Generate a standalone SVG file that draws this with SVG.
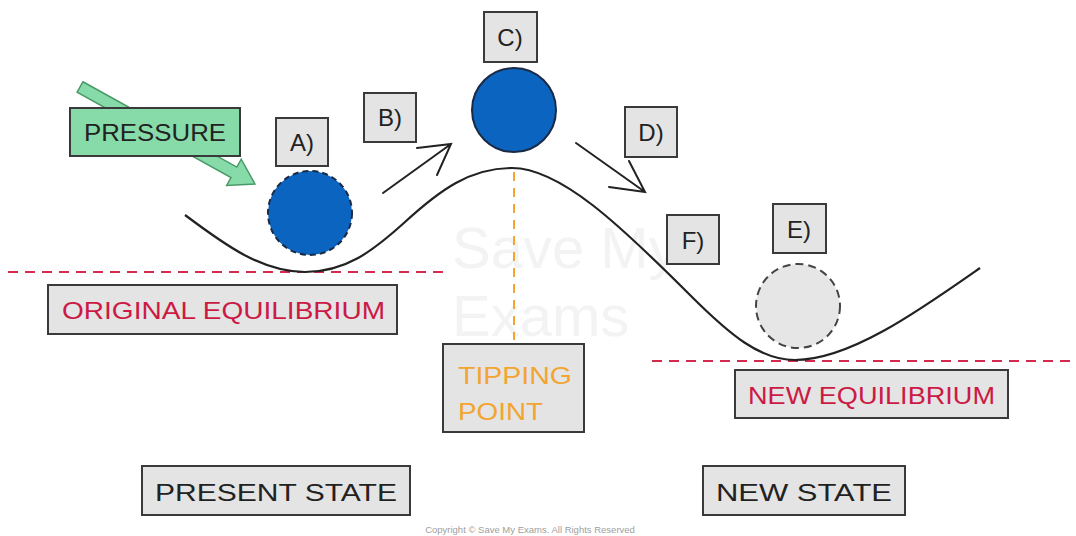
<svg xmlns="http://www.w3.org/2000/svg" width="1076" height="536" viewBox="0 0 1076 536">
<defs>
<style>
.box{fill:#e4e4e4;stroke:#3a3a3a;stroke-width:2}
.lbl{font-family:"Liberation Sans",Arial,sans-serif;font-size:24px;fill:#222}
.red{fill:#cc1a44}
.org{fill:#f2a530}
.line{fill:none;stroke:#222;stroke-width:2.2}
.arr{fill:none;stroke:#222;stroke-width:2;stroke-linecap:round}
</style>
</defs>
<rect width="1076" height="536" fill="#ffffff"/>
<g id="watermark" font-family="Liberation Sans,Arial,sans-serif" font-size="58" fill="#f3f3f3">
<text x="452" y="268">Save My</text>
<text x="452" y="336">Exams</text>
</g>
<g id="guides">
<line x1="8" y1="272" x2="448" y2="272" stroke="#d42a4e" stroke-width="2" stroke-dasharray="10,7"/>
<line x1="652" y1="361" x2="1080" y2="361" stroke="#d42a4e" stroke-width="2" stroke-dasharray="10,7"/>
<line x1="514" y1="172" x2="514" y2="340" stroke="#f2a530" stroke-width="2" stroke-dasharray="9,7"/>
</g>
<g id="landscape">
<path class="line" d="M185,215 C225,245 262,272 305,272 C345,272 372,252 405,222 C440,190 470,168 512,168 C560,168 620,225 690,295 C730,335 760,360 795,360 C850,360 920,310 980,268"/>
</g>
<g id="connectors">
<g id="pressure-arrow" transform="translate(80,87) rotate(29)">
<polygon points="0,-6 176,-6 176,-15 200,0 176,15 176,6 0,6" fill="#86dba8" stroke="#4a9a68" stroke-width="1.5"/>
</g>
<g id="arrow-B">
<path class="arr" d="M383,193 L451,144 M417,148 L451,144 L437,175"/>
</g>
<g id="arrow-D">
<path class="arr" d="M576,143 L645,192 M629,161 L645,192 L609,187"/>
</g>
</g>
<g id="ball-A"><circle cx="310" cy="213" r="42" fill="#0a64c0" stroke="#1a2a44" stroke-width="2" stroke-dasharray="6,4"/></g>
<g id="ball-C"><circle cx="514" cy="110" r="42" fill="#0a64c0" stroke="#1a2a44" stroke-width="2"/></g>
<g id="ball-E"><circle cx="798" cy="306" r="42" fill="#e6e6e6" stroke="#444" stroke-width="2" stroke-dasharray="8,5"/></g>
<g id="pressure">
<rect x="70" y="108" width="170" height="48" fill="#86dba8" stroke="#3a3a3a" stroke-width="2"/>
<text class="lbl" x="155" y="141" text-anchor="middle" textLength="142" lengthAdjust="spacingAndGlyphs">PRESSURE</text>
</g>
<g id="label-A"><rect class="box" x="276" y="118" width="52" height="48"/><text class="lbl" x="302" y="151" text-anchor="middle">A)</text></g>
<g id="label-B"><rect class="box" x="364" y="93" width="52" height="49"/><text class="lbl" x="390" y="126" text-anchor="middle">B)</text></g>
<g id="label-C"><rect class="box" x="484" y="12" width="53" height="50"/><text class="lbl" x="510" y="46" text-anchor="middle">C)</text></g>
<g id="label-D"><rect class="box" x="625" y="107" width="52" height="50"/><text class="lbl" x="651" y="141" text-anchor="middle">D)</text></g>
<g id="label-F"><rect class="box" x="667" y="215" width="52" height="49"/><text class="lbl" x="693" y="249" text-anchor="middle">F)</text></g>
<g id="label-E"><rect class="box" x="773" y="204" width="53" height="49"/><text class="lbl" x="799" y="238" text-anchor="middle">E)</text></g>
<g id="original-equilibrium">
<rect class="box" x="48" y="285" width="349" height="49"/>
<text class="lbl red" x="62" y="319" textLength="323" lengthAdjust="spacingAndGlyphs">ORIGINAL  EQUILIBRIUM</text>
</g>
<g id="tipping-point">
<rect class="box" x="443" y="344" width="141" height="88"/>
<text class="lbl org" x="458" y="384" textLength="114" lengthAdjust="spacingAndGlyphs">TIPPING</text>
<text class="lbl org" x="458" y="420" textLength="85" lengthAdjust="spacingAndGlyphs">POINT</text>
</g>
<g id="new-equilibrium">
<rect class="box" x="735" y="370" width="273" height="48"/>
<text class="lbl red" x="748" y="404" textLength="247" lengthAdjust="spacingAndGlyphs">NEW EQUILIBRIUM</text>
</g>
<g id="present-state">
<rect class="box" x="142" y="466" width="268" height="49"/>
<text class="lbl" x="155" y="501" textLength="242" lengthAdjust="spacingAndGlyphs">PRESENT  STATE</text>
</g>
<g id="new-state">
<rect class="box" x="703" y="466" width="202" height="49"/>
<text class="lbl" x="716" y="501" textLength="176" lengthAdjust="spacingAndGlyphs">NEW  STATE</text>
</g>
<text x="530" y="533" text-anchor="middle" font-family="Liberation Sans,Arial,sans-serif" font-size="9.5" fill="#a0a0a0">Copyright © Save My Exams. All Rights Reserved</text>
</svg>
